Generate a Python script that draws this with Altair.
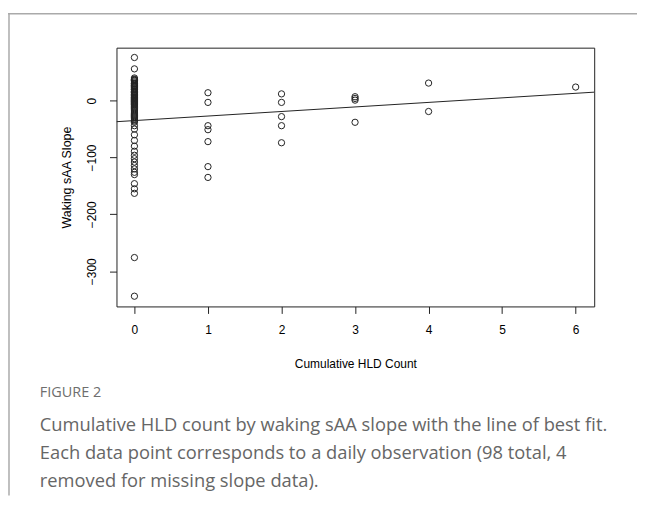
import altair as alt
import pandas as pd

# ---- data ----
hld_0 = [76, 56,
         40, 38, 37, 36, 35, 33, 31, 30, 29, 27, 26, 25, 23, 21, 20, 19, 17, 16,
         15, 14, 12, 11, 10, 9, 7, 6, 5, 4, 3, 2, 1, 0, -1, -2, -3, -4, -5, -6,
         -7, -8, -10, -12, -14, -16, -18, -20, -22, -24, -26, -28, -30, -32, -34, -36, -38,
         -44, -50, -60, -70, -80, -89, -96, -102, -108, -114, -120, -126, -130,
         -146, -155, -163, -276, -344]
hld_1 = [14, -3, -44, -51, -72, -116, -135]
hld_2 = [12, -3, -28, -44, -74]
hld_3 = [7, 4, 1, -38]
hld_4 = [31, -19]
hld_6 = [24]

fit_intercept = -35.0
fit_slope = 8.0

x_ticks = [0, 1, 2, 3, 4, 5, 6]
y_ticks = [0, -100, -200, -300]
x_domain = [-0.244, 6.252]
y_domain = [-362, 93.3]

caption_head = "FIGURE 2"
caption_lines = [
    "Cumulative HLD count by waking sAA slope with the line of best fit.",
    "Each data point corresponds to a daily observation (98 total, 4",
    "removed for missing slope data).",
]

rows = []
for hx, vals in [(0, hld_0), (1, hld_1), (2, hld_2), (3, hld_3), (4, hld_4), (6, hld_6)]:
    for v in vals:
        rows.append({"hld": hx, "slope": v})
df = pd.DataFrame(rows)

line_df = pd.DataFrame({
    "hld": x_domain,
    "slope": [fit_intercept + fit_slope * x for x in x_domain],
})

xs = alt.Scale(domain=x_domain, nice=False, zero=False)
ys = alt.Scale(domain=y_domain, nice=False, zero=False)

rfont = "Liberation Sans"

xaxis = alt.Axis(values=x_ticks, format="d", title="Cumulative HLD Count", grid=False,
                 domain=False, tickSize=7, tickColor="#222", labelColor="black",
                 labelFont=rfont, labelFontSize=12, labelFontWeight="normal",
                 labelPadding=11, titleFont=rfont, titleFontSize=12,
                 titleFontWeight="normal", titleColor="black", titlePadding=23)
yaxis = alt.Axis(values=y_ticks, format="d", title="Waking sAA Slope", grid=False,
                 domain=False, tickSize=7, tickColor="#222", labelColor="black",
                 labelFont=rfont, labelFontSize=12, labelFontWeight="normal",
                 labelAngle=270, labelAlign="center", labelBaseline="bottom",
                 labelPadding=11, titleFont=rfont, titleFontSize=12.5,
                 titleFontWeight="normal", titleColor="black", titlePadding=12)

points = alt.Chart(df).mark_point(shape="circle", filled=False, size=40,
                                  stroke="#222", strokeWidth=1, opacity=1).encode(
    x=alt.X("hld:Q", scale=xs, axis=xaxis),
    y=alt.Y("slope:Q", scale=ys, axis=yaxis),
)

fit = alt.Chart(line_df).mark_line(color="#222", strokeWidth=1, clip=True).encode(
    x=alt.X("hld:Q", scale=xs),
    y=alt.Y("slope:Q", scale=ys),
)

one = pd.DataFrame({"a": [0]})

def txt(s, y, size, color, weight="normal"):
    return alt.Chart(one).mark_text(align="left", baseline="middle", font="Open Sans",
                                    fontSize=size, color=color, fontWeight=weight).encode(
        x=alt.value(-77), y=alt.value(y), text=alt.value(s))

head = txt(caption_head, 346.5, 14.5, "#6e6e6e", 500)
cap1 = txt(caption_lines[0], 379.5, 18.4, "#666666")
cap2 = txt(caption_lines[1], 407.5, 18.4, "#666666")
cap3 = txt(caption_lines[2], 435.5, 18.4, "#666666")

top_rule = alt.Chart(one).mark_rule(color="#aaaaaa", strokeWidth=1.5).encode(
    x=alt.value(-109), x2=alt.value(523), y=alt.value(-34))
left_rule = alt.Chart(one).mark_rule(color="#aaaaaa", strokeWidth=1.5).encode(
    x=alt.value(-108), y=alt.value(-34), y2=alt.value(450))

chart = alt.layer(top_rule, left_rule, fit, points, head, cap1, cap2, cap3).properties(
    width=480, height=260,
    autosize=alt.AutoSizeParams(type="none"),
    padding={"left": 109, "top": 38.7, "right": 43, "bottom": 190},
    background="white",
).configure_view(stroke="#222", strokeWidth=1)

chart.save("out.html", embed_options={"renderer": "svg", "actions": False})
